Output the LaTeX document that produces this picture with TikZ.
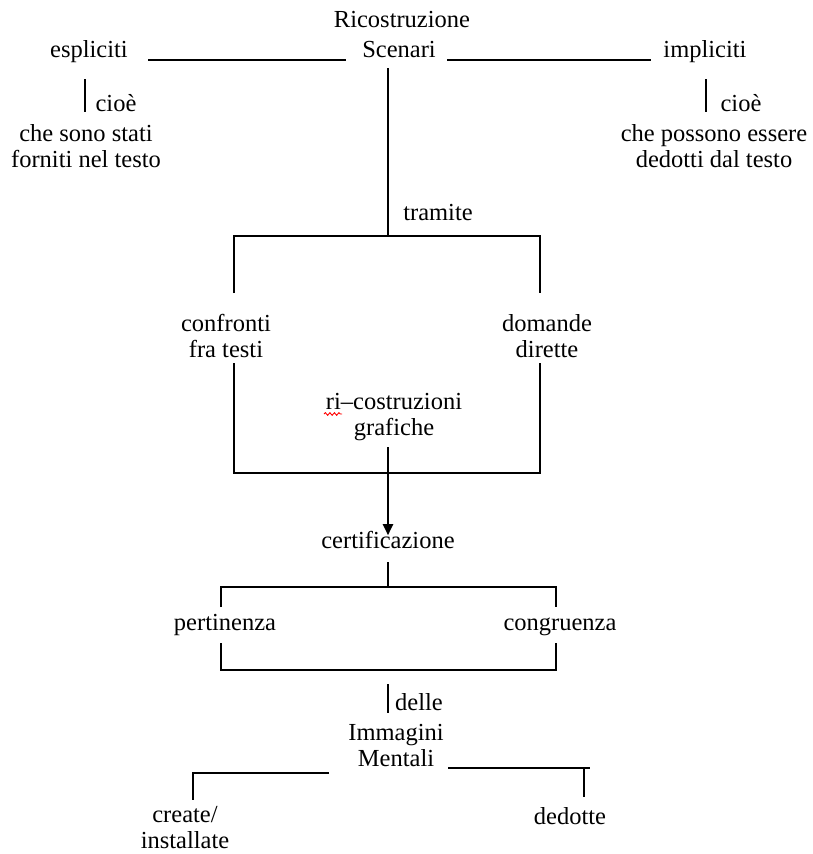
\documentclass[tikz,border=0pt]{standalone}
\usepackage{fontspec}
\setmainfont{Liberation Serif}
\usetikzlibrary{arrows.meta,decorations.pathmorphing}
\begin{document}
\begin{tikzpicture}[x=1pt,y=-1pt,
  lbl/.style={inner sep=0pt, font=\fontsize{24.5}{26}\selectfont, align=center},
  one/.style={lbl, text height=0.7em, text depth=0.22em, yshift=-5pt},
  link/.style={line width=1.9pt},
  arr/.style={line width=1.9pt, -{Triangle[length=11pt,width=10pt]}},
  squiggle/.style={red, line width=0.9pt, decorate,
    decoration={snake, amplitude=1.3pt, segment length=4.5pt}}]
\useasboundingbox[fill=white] (0,0) rectangle (813,854);

% --- top level: Ricostruzione Scenari ---
\node[one] (ric)  at (402,20) {Ricostruzione};
\node[one] (scen) at (399,50) {Scenari};
\node[one] (espl) at (89,50)  {espliciti};
\node[one] (impl) at (705,50) {impliciti};
\coordinate (hl1) at (148,60);  \coordinate (hl2) at (346,60);
\coordinate (hr1) at (447,60);  \coordinate (hr2) at (651,60);
\draw[link] (hl1) -- (hl2);
\draw[link] (hr1) -- (hr2);

% explicit / implicit branches
\coordinate (el1) at (85,79);  \coordinate (el2) at (85,112);
\coordinate (il1) at (706,79); \coordinate (il2) at (706,112);
\draw[link] (el1) -- (el2);
\draw[link] (il1) -- (il2);
\node[one] (cioeL) at (116,104) {cioè};
\node[one] (cioeR) at (741,104) {cioè};
\node[lbl] (esplT) at (86,146)  {che sono stati\\forniti nel testo};
\node[lbl] (implT) at (714,146) {che possono essere\\dedotti dal testo};

% --- tramite ---
\coordinate (s1) at (388,68);  \coordinate (s2) at (388,236);
\coordinate (tl) at (234,236); \coordinate (tr) at (540,236);
\coordinate (tlb) at (234,293); \coordinate (trb) at (540,293);
\draw[link] (s1) -- (s2);
\draw[link] (tlb) -- (tl) -- (tr) -- (trb);
\node[one] (tram) at (438,213) {tramite};

\node[lbl] (conf) at (226,336) {confronti\\fra testi};
\node[lbl] (dom)  at (547,336) {domande\\dirette};

\coordinate (bl1) at (234,363); \coordinate (bl2) at (234,473);
\coordinate (br1) at (540,363); \coordinate (br2) at (540,473);
\draw[link] (bl1) -- (bl2) -- (br2) -- (br1);
\node[lbl] (ricg) at (394,417) {ri–costruzioni\\grafiche};
\coordinate (sq1) at (324,414); \coordinate (sq2) at (342,414);
\draw[squiggle] (sq1) -- (sq2);

% --- certificazione ---
\node[one] (cert) at (388,541) {certificazione};
\coordinate (a1) at (388,447);
\draw[arr, shorten >=6pt] (a1) -- (cert.north);

\coordinate (c1) at (388,562); \coordinate (c2) at (388,587);
\coordinate (cl) at (221,587); \coordinate (cr) at (556,587);
\coordinate (clb) at (221,607); \coordinate (crb) at (556,607);
\draw[link] (c1) -- (c2);
\draw[link] (clb) -- (cl) -- (cr) -- (crb);
\node[one] (pert) at (225,623) {pertinenza};
\node[one] (cong) at (560,623) {congruenza};

\coordinate (pl1) at (221,643); \coordinate (pl2) at (221,670);
\coordinate (pr1) at (556,643); \coordinate (pr2) at (556,670);
\draw[link] (pl1) -- (pl2) -- (pr2) -- (pr1);

% --- Immagini Mentali ---
\coordinate (d1) at (388,684); \coordinate (d2) at (388,713);
\draw[link] (d1) -- (d2);
\node[one] (delle) at (419,703) {delle};
\node[lbl] (imm) at (396,745) {Immagini\\Mentali};

\coordinate (ml1) at (329,773); \coordinate (ml2) at (193,773); \coordinate (ml3) at (193,800);
\coordinate (mr1) at (448,768); \coordinate (mr2) at (590,768);
\coordinate (mr3) at (584,768); \coordinate (mr4) at (584,797);
\draw[link] (ml1) -- (ml2) -- (ml3);
\draw[link] (mr1) -- (mr2);
\draw[link] (mr3) -- (mr4);
\node[lbl] (crea) at (185,828) {create/\\installate};
\node[one] (ded)  at (570,817) {dedotte};
\end{tikzpicture}
\end{document}
